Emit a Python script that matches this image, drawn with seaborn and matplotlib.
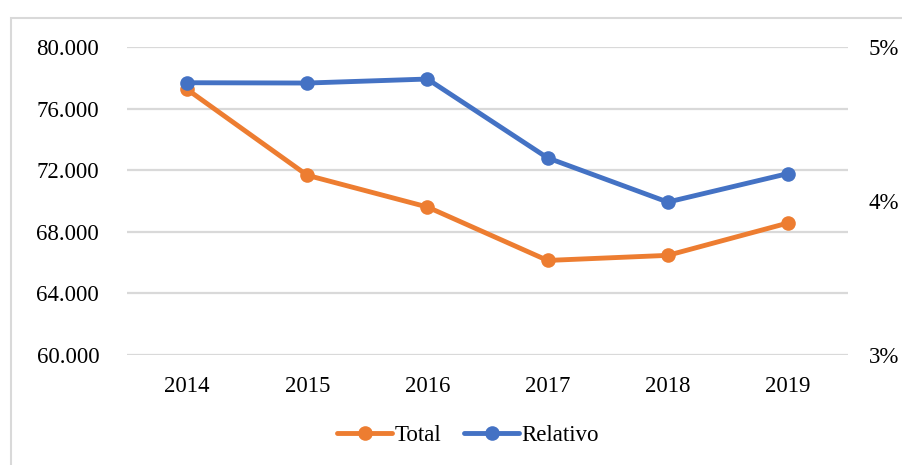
import matplotlib
matplotlib.use("Agg")
import matplotlib.pyplot as plt
from matplotlib.patches import Rectangle
from matplotlib.ticker import FuncFormatter
import pandas as pd
import seaborn as sns

# data
years = ["2014", "2015", "2016", "2017", "2018", "2019"]
total = [77250, 71670, 69610, 66140, 66470, 68570]
relativo = [4.768, 4.766, 4.792, 4.280, 3.993, 4.178]

orange = "#ED7D31"
blue = "#4472C4"
grid_col = "#D9D9D9"

sns.set_style("white")
plt.rcParams["font.family"] = ["Liberation Serif", "DejaVu Serif"]
plt.rcParams["font.size"] = 16.5
plt.rcParams["text.color"] = "black"
plt.rcParams["xtick.color"] = "black"
plt.rcParams["ytick.color"] = "black"

df = pd.DataFrame({"year": years, "Total": total, "Relativo": relativo})

fig = plt.figure(figsize=(9.03, 4.65), dpi=100)
ax = fig.add_axes([127 / 903, 1 - 355 / 465, 721 / 903, 308 / 465])
ax2 = ax.twinx()

sns.lineplot(data=df, x="year", y="Total", ax=ax, color=orange, lw=3.5,
             marker="o", markersize=10.5, markeredgewidth=0, label="Total",
             legend=False, zorder=3)
sns.lineplot(data=df, x="year", y="Relativo", ax=ax2, color=blue, lw=3.5,
             marker="o", markersize=10.5, markeredgewidth=0, label="Relativo",
             legend=False, zorder=3)

ax.set_xlim(-0.5, 5.5)
ax.set_ylim(60000, 80000)
ax.set_yticks(range(60000, 80001, 4000))
ax.yaxis.set_major_formatter(FuncFormatter(lambda v, p: f"{v:,.0f}".replace(",", ".")))
ax2.set_ylim(3, 5)
ax2.set_yticks([3, 4, 5])
ax2.yaxis.set_major_formatter(FuncFormatter(lambda v, p: f"{v:.0f}%"))

ax.grid(axis="y", color=grid_col, lw=1.6)
ax.set_axisbelow(True)
ax2.grid(False)
for a in (ax, ax2):
    for s in a.spines.values():
        s.set_visible(False)
    a.set_xlabel("")
    a.set_ylabel("")
ax.tick_params(axis="y", length=0, pad=20, labelsize=16.5, labelcolor="black")
ax.tick_params(axis="x", length=0, pad=15, labelsize=16.5, labelcolor="black")
ax2.tick_params(axis="y", length=0, pad=15, labelsize=16.5, labelcolor="black")

h1, l1 = ax.get_legend_handles_labels()
h2, l2 = ax2.get_legend_handles_labels()
fig.legend(h1 + h2, l1 + l2, loc="center", bbox_to_anchor=(468 / 903, 1 - 435 / 465),
           ncol=2, frameon=False, fontsize=16.5, handlelength=2.4, handletextpad=0.1,
           columnspacing=1.0, numpoints=1, labelcolor="black")

# outer chart frame
fig.patches.append(Rectangle((11 / 903, -0.1), 1.2, 1.1 - 18 / 465,
                             transform=fig.transFigure, fill=False,
                             edgecolor=grid_col, lw=1.5))

fig.savefig("out.png", dpi=100)
